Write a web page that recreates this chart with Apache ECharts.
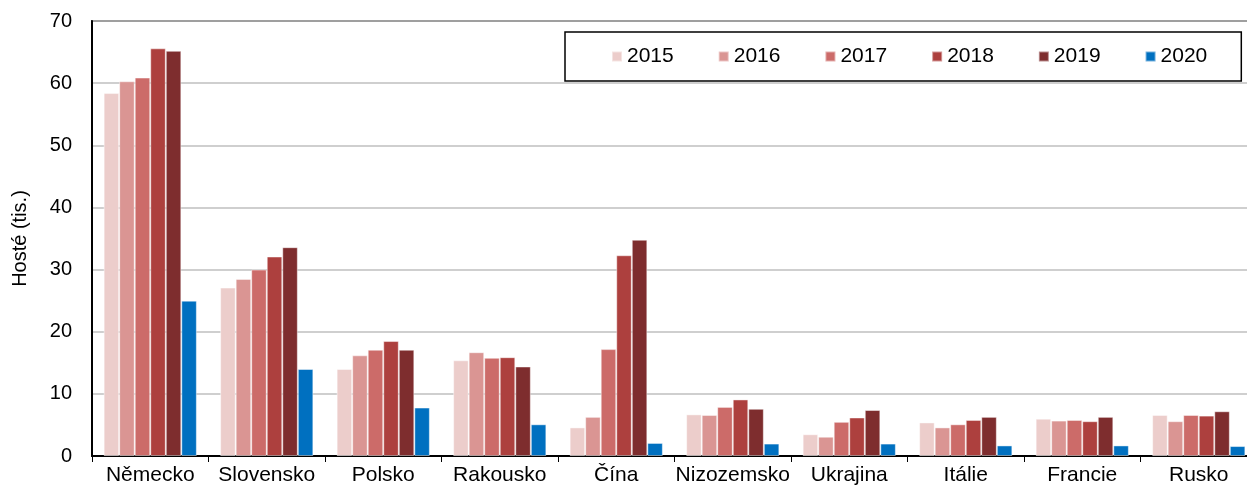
<!DOCTYPE html>
<html>
<head>
<meta charset="utf-8">
<script src="https://cdn.jsdelivr.net/npm/echarts@6/dist/echarts.min.js"></script>
<style>
  html, body { margin: 0; padding: 0; background: #fff; overflow: hidden; }
  #chart { width: 1258px; height: 486px; }
</style>
</head>
<body>
<div id="chart"></div>
<script>
// zeme a roky
var countries = ['Německo', 'Slovensko', 'Polsko', 'Rakousko', 'Čína', 'Nizozemsko', 'Ukrajina', 'Itálie', 'Francie', 'Rusko'];
var years = ['2015', '2016', '2017', '2018', '2019', '2020'];
var colors = ['#ECCDCB', '#DA9593', '#CC6B69', '#AD403E', '#7E2D2E', '#0070C0'];

// hoste v tisicich
var v2015 = [58.4, 27.1, 14.0, 15.4, 4.6, 6.7, 3.5, 5.4, 6.0, 6.6];
var v2016 = [60.3, 28.5, 16.2, 16.7, 6.3, 6.6, 3.1, 4.6, 5.7, 5.6];
var v2017 = [60.9, 30.0, 17.1, 15.8, 17.2, 7.9, 5.5, 5.1, 5.8, 6.6];
var v2018 = [65.6, 32.1, 18.5, 15.9, 32.3, 9.1, 6.2, 5.8, 5.6, 6.5];
var v2019 = [65.2, 33.6, 17.1, 14.4, 34.8, 7.6, 7.4, 6.3, 6.3, 7.2];
var v2020 = [25.0, 14.0, 7.8, 5.1, 2.1, 2.0, 2.0, 1.7, 1.7, 1.6];
var values = [v2015, v2016, v2017, v2018, v2019, v2020];

var font = '"Liberation Sans", Arial, sans-serif';

var series = years.map(function (y, i) {
    return {
        name: y,
        type: 'bar',
        data: values[i],
        barGap: '0%',
        barCategoryGap: '20%',
        itemStyle: {
            color: colors[i],
            borderColor: 'rgba(255,255,255,0.45)',
            borderWidth: 1
        }
    };
});

var myChart = echarts.init(document.getElementById('chart'));
myChart.setOption({
    animation: false,
    color: colors,
    grid: {
        left: 92,
        right: 1,
        top: 21,
        bottom: 30,
        show: true,
        borderColor: '#000',
        borderWidth: 1.5
    },
    legend: {
        data: years,
        left: 565,
        top: 32,
        padding: [14, 34, 14, 46],
        borderColor: '#000',
        borderWidth: 1.5,
        itemWidth: 10,
        itemHeight: 10,
        itemGap: 44,
        icon: 'rect',
        textStyle: { fontFamily: font, fontSize: 21, color: '#000' }
    },
    xAxis: {
        type: 'category',
        data: countries,
        axisLine: { lineStyle: { color: '#000', width: 2 } },
        axisTick: { show: true, length: 6, lineStyle: { color: '#000' } },
        axisLabel: { fontFamily: font, fontSize: 21, color: '#000', margin: 9, interval: 0 }
    },
    yAxis: {
        type: 'value',
        min: 0,
        max: 70,
        interval: 10,
        name: 'Hosté (tis.)',
        nameLocation: 'middle',
        nameGap: 62,
        nameTextStyle: { fontFamily: font, fontSize: 20, color: '#000' },
        axisLine: { show: true, lineStyle: { color: '#000', width: 2 } },
        axisTick: { show: false },
        axisLabel: { fontFamily: font, fontSize: 20, color: '#000', margin: 20 },
        splitLine: { lineStyle: { color: '#BFBFBF', width: 1.5 } }
    },
    series: series
});
</script>
</body>
</html>
